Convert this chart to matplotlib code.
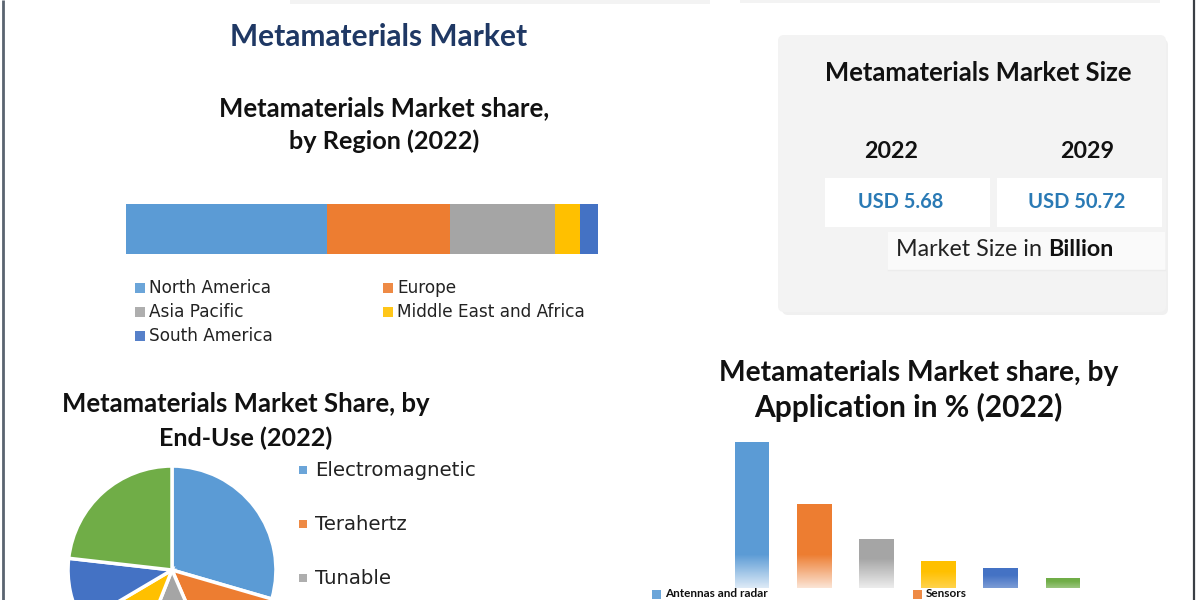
import numpy as np
import matplotlib
matplotlib.use("Agg")
import matplotlib.pyplot as plt
from matplotlib.patches import Rectangle, FancyBboxPatch

# ---------------- data ----------------
region_names = ["North America", "Europe", "Asia Pacific", "Middle East and Africa", "South America"]
region_share = [42.6, 26.1, 22.2, 5.3, 3.8]
region_colors = ["#5b9bd5", "#ed7d31", "#a5a5a5", "#ffc000", "#4472c4"]

enduse_names = ["Electromagnetic", "Terahertz", "Tunable", "Photonic", "Frequency Selective Surface", "Others"]
enduse_share = [29.5, 14.0, 12.5, 10.5, 10.3, 23.2]
enduse_colors = ["#5b9bd5", "#ed7d31", "#a5a5a5", "#ffc000", "#4472c4", "#70ad47"]

app_names = ["Antennas and radar", "Sensors", "Cloaking devices", "Superlenses", "Light and sound filtering", "Others"]
app_share = [43.5, 25.0, 14.5, 8.0, 6.0, 3.0]
app_colors = ["#5b9bd5", "#ed7d31", "#a5a5a5", "#ffc000", "#4472c4", "#70ad47"]

size_years = ["2022", "2029"]
size_values = ["USD 5.68", "USD 50.72"]

TITLE_FONT = ["Lato", "DejaVu Sans"]
BODY_FONT = ["DejaVu Sans"]

# ---------------- figure ----------------
fig = plt.figure(figsize=(12, 6), dpi=100)
fig.patch.set_facecolor("white")
bg = fig.add_axes([0, 0, 1, 1], zorder=0)
bg.set_xlim(0, 1200)
bg.set_ylim(600, 0)
bg.axis("off")

fig.canvas.draw()
renderer = fig.canvas.get_renderer()


def fit(x, y, s, w, size0=14, ax=bg, **kw):
    t = ax.text(x, y, s, fontsize=size0, **kw)
    bb = t.get_window_extent(renderer)
    t.set_fontsize(size0 * w / bb.width)
    return t


# frame lines and faint shadows
bg.plot([3, 3], [0, 600], color="#5a6470", lw=2, solid_capstyle="butt")
bg.plot([1194, 1194], [0, 600], color="#3a3f45", lw=1.6, solid_capstyle="butt")
for a, y0, y1, x0, x1 in [(0.5, 0, 4, 290, 710), (0.5, 0, 3, 740, 1160)]:
    bg.add_patch(Rectangle((x0, y0), x1 - x0, y1 - y0, color="#e9e9e9", lw=0, alpha=a))

# main title
fit(379, 37, "Metamaterials Market", 300, ha="center", va="center",
    family=TITLE_FONT, weight="bold", color="#1f3864")

# region subtitle
fit(384.5, 108, "Metamaterials Market share,", 333, ha="center", va="center",
    family=TITLE_FONT, weight="bold", color="#111111")
fit(384.5, 141, "by Region (2022)", 191, ha="center", va="center",
    family=TITLE_FONT, weight="bold", color="#111111")

# ---------------- stacked region bar ----------------
axr = fig.add_axes([126 / 1200, (600 - 254) / 600, 472 / 1200, 50 / 600], zorder=2)
left = 0.0
for v, c in zip(region_share, region_colors):
    axr.barh(0, v, left=left, height=1.0, color=c, edgecolor="none")
    left += v
axr.set_xlim(0, sum(region_share))
axr.set_ylim(-0.5, 0.5)
axr.axis("off")

# region legend
leg_pos = [(149, 288), (397, 288), (149, 312), (397, 312), (149, 336)]
t0 = fit(149, 288, "North America", 123, ha="left", va="center", family=BODY_FONT, color="#222222")
fs_reg = t0.get_fontsize()
for i, (name, c, (x, y)) in enumerate(zip(region_names, region_colors, leg_pos)):
    bg.add_patch(Rectangle((x - 14, y - 5.5), 10, 10, color=c, lw=0, alpha=0.9))
    if i > 0:
        bg.text(x, y, name, fontsize=fs_reg, ha="left", va="center", family=BODY_FONT, color="#222222")

# ---------------- market size panel ----------------
bg.add_patch(FancyBboxPatch((782, 39), 386, 276, boxstyle="round,pad=0,rounding_size=6",
                            facecolor="#e6e6e6", edgecolor="none", alpha=0.6))
bg.add_patch(FancyBboxPatch((778, 35), 388, 277, boxstyle="round,pad=0,rounding_size=6",
                            facecolor="#f3f3f3", edgecolor="none"))
fit(978, 73, "Metamaterials Market Size", 310, ha="center", va="center",
    family=TITLE_FONT, weight="bold", color="#111111")
for yr, val, cx, bx in zip(size_years, size_values, [891, 1087], [825, 997]):
    fit(cx, 151, yr, 54, ha="center", va="center", family=TITLE_FONT, weight="bold", color="#111111")
    bg.add_patch(Rectangle((bx, 178), 165, 49, facecolor="white", edgecolor="none"))
w_val = {"USD 5.68": 86, "USD 50.72": 98}
for val, cx in zip(size_values, [901, 1077]):
    fit(cx, 202, val, w_val[val], ha="center", va="center", family=TITLE_FONT, weight="bold", color="#2a7ab5")
bg.add_patch(Rectangle((888, 232), 277, 38, facecolor="#fafafa", edgecolor="none"))
bg.plot([888, 1165], [270, 270], color="#ececec", lw=1)
tn = fit(896, 250, "Market Size in ", 152, ha="left", va="center", family=TITLE_FONT, color="#222222")
bbn = tn.get_window_extent(renderer)
bg.text(bbn.x1, 250, "Billion", fontsize=tn.get_fontsize(), ha="left", va="center",
        family=TITLE_FONT, weight="bold", color="#111111")

# ---------------- end-use pie ----------------
fit(245.5, 404, "Metamaterials Market Share, by", 371, ha="center", va="center",
    family=TITLE_FONT, weight="bold", color="#111111")
fit(246, 438, "End-Use (2022)", 174, ha="center", va="center",
    family=TITLE_FONT, weight="bold", color="#111111")

axp = fig.add_axes([67 / 1200, (600 - 675) / 600, 210 / 1200, 210 / 600], zorder=2)
axp.pie(enduse_share, colors=enduse_colors, startangle=90, counterclock=False,
        wedgeprops=dict(edgecolor="white", linewidth=2.5))
axp.set_xlim(-1.01, 1.01)
axp.set_ylim(-1.01, 1.01)
axp.axis("off")

tp = fit(315, 470, "Electromagnetic", 162, ha="left", va="center", family=BODY_FONT, color="#222222")
fs_pie = tp.get_fontsize()
for i, (name, c) in enumerate(zip(enduse_names[:3], enduse_colors[:3])):
    y = 470 + 54 * i
    bg.add_patch(Rectangle((299, y - 4), 8, 8, color=c, lw=0, alpha=0.9))
    if i > 0:
        bg.text(315, y, name, fontsize=fs_pie, ha="left", va="center", family=BODY_FONT, color="#222222")

# ---------------- application bars ----------------
fit(919, 373, "Metamaterials Market share, by", 402, ha="center", va="center",
    family=TITLE_FONT, weight="bold", color="#111111")
fit(908, 407, "Application in % (2022)", 310, ha="center", va="center",
    family=TITLE_FONT, weight="bold", color="#111111")

ymax = 50.0
ax_h = 146 / 43.5 * ymax
axb = fig.add_axes([721 / 1200, (600 - 588) / 600, 373 / 1200, ax_h / 600], zorder=2)
axb.patch.set_alpha(0)
xs = np.arange(len(app_share))
bars = axb.bar(xs, app_share, width=0.56, color=app_colors, edgecolor="none", zorder=2)
for rect, v in zip(bars, app_share):
    x0 = rect.get_x()
    x1 = x0 + rect.get_width()
    fade = min(10.0, 0.6 * v)
    amax = 0.8 if v > 10 else 0.3
    img = np.ones((64, 1, 4))
    img[..., 3] = np.linspace(amax, 0.0, 64)[:, None]
    axb.imshow(img, extent=(x0, x1, 0, fade), origin="lower", aspect="auto",
               interpolation="bilinear", zorder=3)
axb.set_xlim(-0.5, len(app_share) - 0.5)
axb.set_ylim(0, ymax)
axb.axis("off")

# application legend along the bottom edge
for name, c, sx in zip(app_names[:2], app_colors[:2], [652, 913]):
    bg.add_patch(Rectangle((sx, 590), 9, 9, color=c, lw=0, alpha=0.9))
    bg.text(sx + 13, 599, name, fontsize=8.5, ha="left", va="bottom", family=TITLE_FONT,
            weight="bold", color="#111111")

fig.savefig("out.png", dpi=100, facecolor="white")
